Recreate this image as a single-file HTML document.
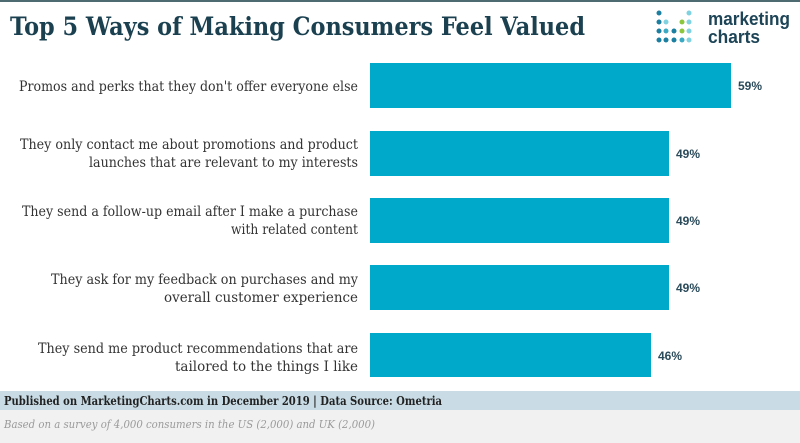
<!DOCTYPE html>
<html><head><meta charset="utf-8"><style>
html,body{margin:0;padding:0;background:#fff;}
svg{display:block;}
</style></head><body>
<svg width="800" height="443" viewBox="0 0 800 443" xmlns="http://www.w3.org/2000/svg">
<rect x="0" y="0" width="800" height="443" fill="#fff"/>
<rect x="0" y="0" width="800" height="2" fill="#4d6b70"/>
<text x="10" y="35" font-family="DejaVu Serif, serif" font-weight="bold" font-size="25" fill="#1b4151" textLength="575" lengthAdjust="spacingAndGlyphs">Top 5 Ways of Making Consumers Feel Valued</text>
<g>
<circle cx="659" cy="13" r="2.5" fill="#1a7fa0"/>
<circle cx="689" cy="13" r="2.5" fill="#7fd3e0"/>
<circle cx="659" cy="22" r="2.5" fill="#1a7fa0"/><circle cx="666" cy="22" r="2.5" fill="#7fd3e0"/>
<circle cx="682" cy="22" r="2.5" fill="#8cc63f"/><circle cx="689" cy="22" r="2.5" fill="#7fd3e0"/>
<circle cx="659" cy="31" r="2.5" fill="#1a7fa0"/><circle cx="666" cy="31" r="2.5" fill="#3aaac4"/><circle cx="674" cy="31" r="2.5" fill="#1a7fa0"/><circle cx="682" cy="31" r="2.5" fill="#8cc63f"/><circle cx="689" cy="31" r="2.5" fill="#7fd3e0"/>
<circle cx="659" cy="40" r="2.5" fill="#1a7fa0"/><circle cx="666" cy="40" r="2.5" fill="#1a7fa0"/><circle cx="674" cy="40" r="2.5" fill="#1a7fa0"/><circle cx="682" cy="40" r="2.5" fill="#3aaac4"/><circle cx="689" cy="40" r="2.5" fill="#7fd3e0"/>
</g>
<text x="708" y="25" font-family="Liberation Sans, sans-serif" font-weight="bold" font-size="18" fill="#1d4457" textLength="82" lengthAdjust="spacingAndGlyphs">marketing</text>
<text x="708" y="43" font-family="Liberation Sans, sans-serif" font-weight="bold" font-size="18" fill="#1d4457" textLength="52" lengthAdjust="spacingAndGlyphs">charts</text>
<g fill="#00a9c9">
<rect x="370" y="63" width="361" height="45"/>
<rect x="370" y="131" width="299" height="45"/>
<rect x="370" y="198" width="299" height="45"/>
<rect x="370" y="265" width="299" height="45"/>
<rect x="370" y="333" width="281" height="44"/>
</g>
<g font-family="Liberation Sans, sans-serif" font-weight="bold" font-size="12" fill="#2a4a5a">
<text x="738" y="90">59%</text>
<text x="676" y="158">49%</text>
<text x="676" y="225">49%</text>
<text x="676" y="292">49%</text>
<text x="658" y="360">46%</text>
</g>
<g font-family="DejaVu Serif, serif" font-size="13.5" fill="#333" text-anchor="end">
<text x="358" y="91" textLength="339" lengthAdjust="spacingAndGlyphs">Promos and perks that they don't offer everyone else</text>
<text x="358" y="149" textLength="338" lengthAdjust="spacingAndGlyphs">They only contact me about promotions and product</text>
<text x="358" y="167" textLength="269" lengthAdjust="spacingAndGlyphs">launches that are relevant to my interests</text>
<text x="358" y="216" textLength="336" lengthAdjust="spacingAndGlyphs">They send a follow-up email after I make a purchase</text>
<text x="358" y="234" textLength="127" lengthAdjust="spacingAndGlyphs">with related content</text>
<text x="358" y="284" textLength="307" lengthAdjust="spacingAndGlyphs">They ask for my feedback on purchases and my</text>
<text x="358" y="302" textLength="194" lengthAdjust="spacingAndGlyphs">overall customer experience</text>
<text x="358" y="353" textLength="320" lengthAdjust="spacingAndGlyphs">They send me product recommendations that are</text>
<text x="358" y="371" textLength="183" lengthAdjust="spacingAndGlyphs">tailored to the things I like</text>
</g>
<rect x="0" y="391" width="800" height="19" fill="#c9dce5"/>
<rect x="0" y="410" width="800" height="33" fill="#f1f1f1"/>
<text x="4" y="405" font-family="DejaVu Serif, serif" font-weight="bold" font-size="12" fill="#222" textLength="438" lengthAdjust="spacingAndGlyphs">Published on MarketingCharts.com in December 2019 | Data Source: Ometria</text>
<text x="4" y="428" font-family="DejaVu Serif, serif" font-style="italic" font-size="11" fill="#9a9a9a" textLength="371" lengthAdjust="spacingAndGlyphs">Based on a survey of 4,000 consumers in the US (2,000) and UK (2,000)</text>
</svg>
</body></html>
